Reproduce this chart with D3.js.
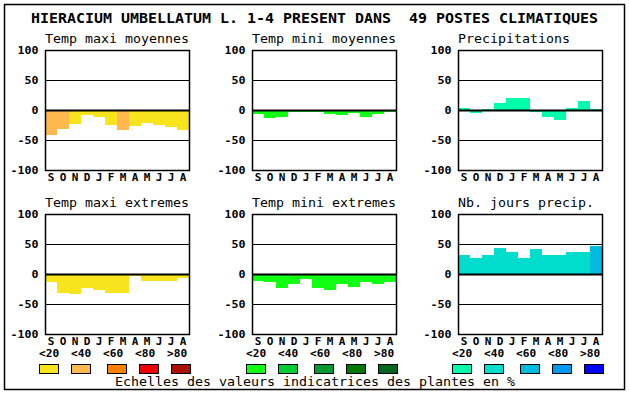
<!DOCTYPE html>
<html>
<head>
<meta charset="utf-8">
<script src="https://cdn.jsdelivr.net/npm/d3@7"></script>
<style>
  html, body { margin: 0; padding: 0; background: #fff; }
  svg { display: block; }
  text { font-family: "DejaVu Sans Mono", "Liberation Mono", monospace; fill: #000; white-space: pre; }
</style>
</head>
<body>
<svg id="chart" width="630" height="394"></svg>
<script>
/* ------------------ data ------------------ */

const months = ["S", "O", "N", "D", "J", "F", "M", "A", "M", "J", "J", "A"];
const yTicks = [100, 50, 0, -50, -100];
const classLabels = ["<20", "<40", "<60", "<80", ">80"];

const tmaxMoy = [-41, -31, -23, -8, -12, -25, -34, -26, -22, -25, -28, -33];
const tmaxMoyClass = [1, 1, 0, 0, 0, 0, 1, 0, 0, 0, 0, 0];
const tminMoy = [-7, -14, -12, -4, -3, -4, -6, -8, -5, -11, -6, -4];
const tminMoyClass = [0, 0, 0, 0, 0, 0, 0, 0, 0, 0, 0, 0];
const precip = [3, -5, 2, 12, 20, 20, -3, -11, -16, 3, 15, 2];
const precipClass = [0, 0, 0, 0, 0, 0, 0, 0, 0, 0, 0, 0];
const tmaxExt = [-14, -31, -34, -24, -27, -32, -31, -4, -11, -11, -12, -7];
const tmaxExtClass = [0, 0, 0, 0, 0, 0, 0, 0, 0, 0, 0, 0];
const tminExt = [-11, -14, -24, -16, -8, -24, -26, -16, -21, -13, -16, -14];
const tminExtClass = [0, 0, 0, 0, 0, 0, 0, 0, 0, 0, 0, 0];
const nbJours = [32, 27, 32, 44, 37, 27, 42, 31, 32, 37, 36, 47];
const nbJoursClass = [1, 1, 1, 1, 1, 1, 1, 1, 1, 1, 1, 2];

const warmColors = ["#f8e41c", "#ffb84e", "#ff7f00", "#ee0000", "#aa1100"];
const greenColors = ["#11ff11", "#00cc33", "#009933", "#007700", "#006622"];
const blueColors = ["#00ffaa", "#00ddcc", "#00bbdd", "#0099ee", "#0000ff"];

const TITLE = "HIERACIUM UMBELLATUM L. 1-4 PRESENT DANS  49 POSTES CLIMATIQUES";
const CAPTION = "Echelles des valeurs indicatrices des plantes en %";

const panels = [
  { title: "Temp maxi moyennes", values: tmaxMoy, cls: tmaxMoyClass, colors: warmColors, col: 0, row: 0 },
  { title: "Temp mini moyennes", values: tminMoy, cls: tminMoyClass, colors: greenColors, col: 1, row: 0 },
  { title: "Precipitations", values: precip, cls: precipClass, colors: blueColors, col: 2, row: 0 },
  { title: "Temp maxi extremes", values: tmaxExt, cls: tmaxExtClass, colors: warmColors, col: 0, row: 1 },
  { title: "Temp mini extremes", values: tminExt, cls: tminExtClass, colors: greenColors, col: 1, row: 1 },
  { title: "Nb. jours precip.", values: nbJours, cls: nbJoursClass, colors: blueColors, col: 2, row: 1 }
];

/* ------------------ layout ------------------ */

const PLOT_W = 144;
const PLOT_H = 120;
const COL_X = [45, 252, 458];
const ROW_Y = [50, 214];

const svg = d3.select("#chart");

// fixed-advance text helper (the original uses a bitmap font)
function monoText(sel, str, adv) {
  return sel.text(str)
    .attr("xml:space", "preserve")
    .attr("textLength", str.length * adv)
    .attr("lengthAdjust", "spacingAndGlyphs");
}

// outer frame
svg.append("rect")
  .attr("x", 4.5).attr("y", 4.5)
  .attr("width", 620).attr("height", 385)
  .attr("fill", "none").attr("stroke", "#000").attr("stroke-width", 1.5);

// main title
monoText(svg.append("text")
  .attr("x", 31).attr("y", 23)
  .attr("font-size", 14).attr("font-weight", "bold"), TITLE, 9);

/* ------------------ panels ------------------ */

panels.forEach(p => {
  const x0 = COL_X[p.col];
  const y0 = ROW_Y[p.row];

  const x = d3.scaleBand()
    .domain(d3.range(months.length))
    .range([x0, x0 + PLOT_W])
    .padding(0);

  const y = d3.scaleLinear()
    .domain([-100, 100])
    .range([y0 + PLOT_H, y0]);

  const g = svg.append("g");

  // title
  monoText(g.append("text")
    .attr("x", x0).attr("y", y0 - 7)
    .attr("font-size", 13), p.title, 8);

  // bars
  g.append("g")
    .selectAll("rect")
    .data(p.values)
    .join("rect")
    .attr("x", (d, i) => x(i))
    .attr("width", x.bandwidth())
    .attr("y", d => y(Math.max(0, d)))
    .attr("height", d => Math.abs(y(d) - y(0)))
    .attr("fill", (d, i) => p.colors[p.cls[i]])
    .attr("shape-rendering", "crispEdges");

  // gridlines
  g.append("g")
    .selectAll("line")
    .data([50, 0, -50])
    .join("line")
    .attr("x1", x0).attr("x2", x0 + PLOT_W)
    .attr("y1", d => Math.round(y(d)) + 0.5)
    .attr("y2", d => Math.round(y(d)) + 0.5)
    .attr("stroke", "#000")
    .attr("stroke-width", d => d === 0 ? 2 : 1);

  // frame
  g.append("rect")
    .attr("x", x0 + 0.5).attr("y", y0 + 0.5)
    .attr("width", PLOT_W).attr("height", PLOT_H)
    .attr("fill", "none").attr("stroke", "#000").attr("stroke-width", 1.5);

  // y tick labels
  g.append("g")
    .selectAll("text")
    .data(yTicks)
    .join("text")
    .attr("x", x0 - 6.5)
    .attr("y", d => y(d) + 4)
    .attr("text-anchor", "end")
    .attr("font-size", 11)
    .attr("font-weight", "bold")
    .each(function (d) { monoText(d3.select(this), String(d), 7); });

  // month labels
  g.append("g")
    .selectAll("text")
    .data(months)
    .join("text")
    .attr("x", (d, i) => x(i) + x.bandwidth() / 2)
    .attr("y", y0 + PLOT_H + 10.5)
    .attr("text-anchor", "middle")
    .attr("font-size", 11)
    .attr("font-weight", "bold")
    .text(d => d);

  // legend (bottom row only)
  if (p.row === 1) {
    const lx = x0 - 6;
    const labelOff = [0, 32, 64, 96, 128];
    const swatchOff = [0, 32, 68, 100, 132];

    g.append("g")
      .selectAll("text")
      .data(classLabels)
      .join("text")
      .attr("x", (d, i) => lx + labelOff[i])
      .attr("y", 357)
      .attr("font-size", 11)
      .attr("font-weight", "bold")
      .each(function (d) { monoText(d3.select(this), d, 6.7); });

    g.append("g")
      .selectAll("rect")
      .data(p.colors)
      .join("rect")
      .attr("x", (d, i) => lx + swatchOff[i] + 0.5)
      .attr("y", 364.5)
      .attr("width", 19).attr("height", 9)
      .attr("fill", d => d)
      .attr("stroke", "#000").attr("stroke-width", 1);
  }
});

// caption
monoText(svg.append("text")
  .attr("x", 115).attr("y", 386)
  .attr("font-size", 13), CAPTION, 8);
</script>
</body>
</html>
